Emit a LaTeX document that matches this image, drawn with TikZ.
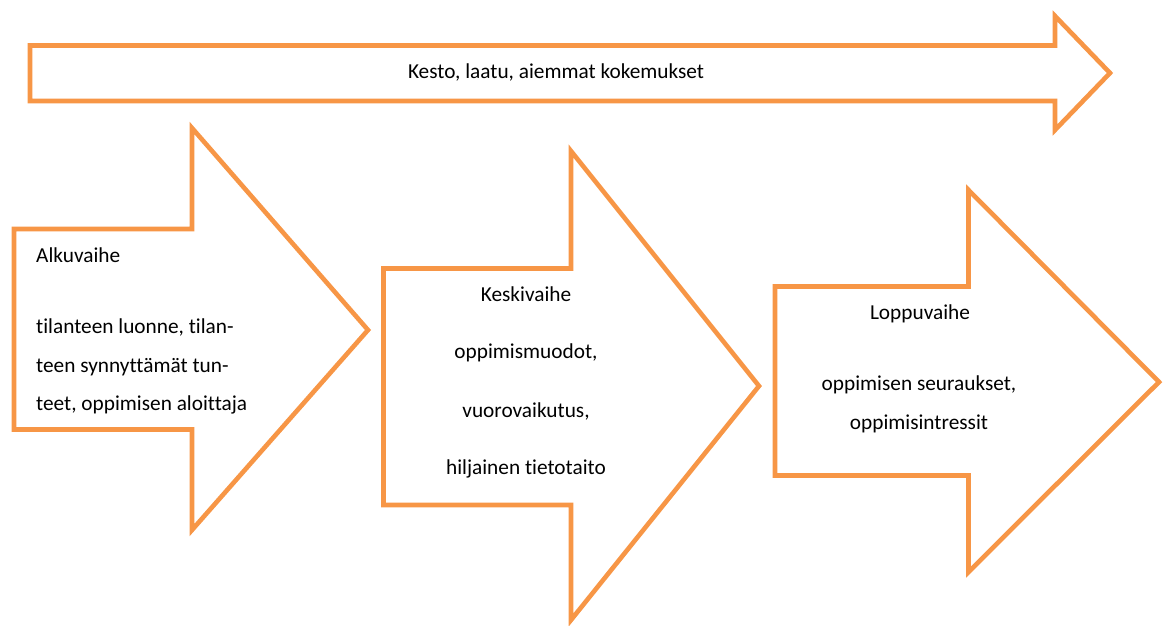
\documentclass[tikz,border=0pt]{standalone}
\usepackage{fontspec}
\setmainfont{Carlito}[Ligatures={NoCommon}]
\definecolor{accentorange}{HTML}{F79646}
\begin{document}
\begin{tikzpicture}[x=1pt,y=-1pt,
  arrowshape/.style={draw=accentorange,line width=4.6pt,line join=miter,fill=white},
  lbl/.style={inner sep=0pt,font=\fontsize{21.3}{24}\selectfont,text=black,anchor=base},
  lbll/.style={lbl,anchor=base west}]
\useasboundingbox (0,0) rectangle (1163,625);
% top arrow
\draw[arrowshape] (30,45.5) -- (1055,45.5) -- (1055,16) -- (1110,73) -- (1055,130) -- (1055,101) -- (30,101) -- cycle;
\node[lbl] (top) at (556,78) {Kesto, laatu, aiemmat kokemukset};
% arrow 1
\draw[arrowshape] (14,229) -- (192,229) -- (192,128) -- (368,330) -- (192,530) -- (192,429.5) -- (14,429.5) -- cycle;
\node[lbll] (a1) at (36,262) {Alkuvaihe};
\node[lbll] (a2) at (36,333) {tilanteen luonne, tilan-};
\node[lbll] (a3) at (36,372) {teen synnyttämät tun-};
\node[lbll] (a4) at (36,410) {teet, oppimisen aloittaja};
% arrow 2
\draw[arrowshape] (383.5,268.5) -- (571,268.5) -- (571,151) -- (759,386) -- (571,620) -- (571,505) -- (383.5,505) -- cycle;
\node[lbl] (b1) at (526,301) {Keskivaihe};
\node[lbl] (b2) at (526,358) {oppimismuodot,};
\node[lbl] (b3) at (526,417) {vuorovaikutus,};
\node[lbl] (b4) at (526,474) {hiljainen tietotaito};
% arrow 3
\draw[arrowshape] (775,286.5) -- (968.5,286.5) -- (968.5,190) -- (1159,382) -- (968.5,572) -- (968.5,475.5) -- (775,475.5) -- cycle;
\node[lbl] (c1) at (920,319) {Loppuvaihe};
\node[lbl] (c2) at (919,390) {oppimisen seuraukset,};
\node[lbl] (c3) at (919,429) {oppimisintressit};
\end{tikzpicture}
\end{document}
